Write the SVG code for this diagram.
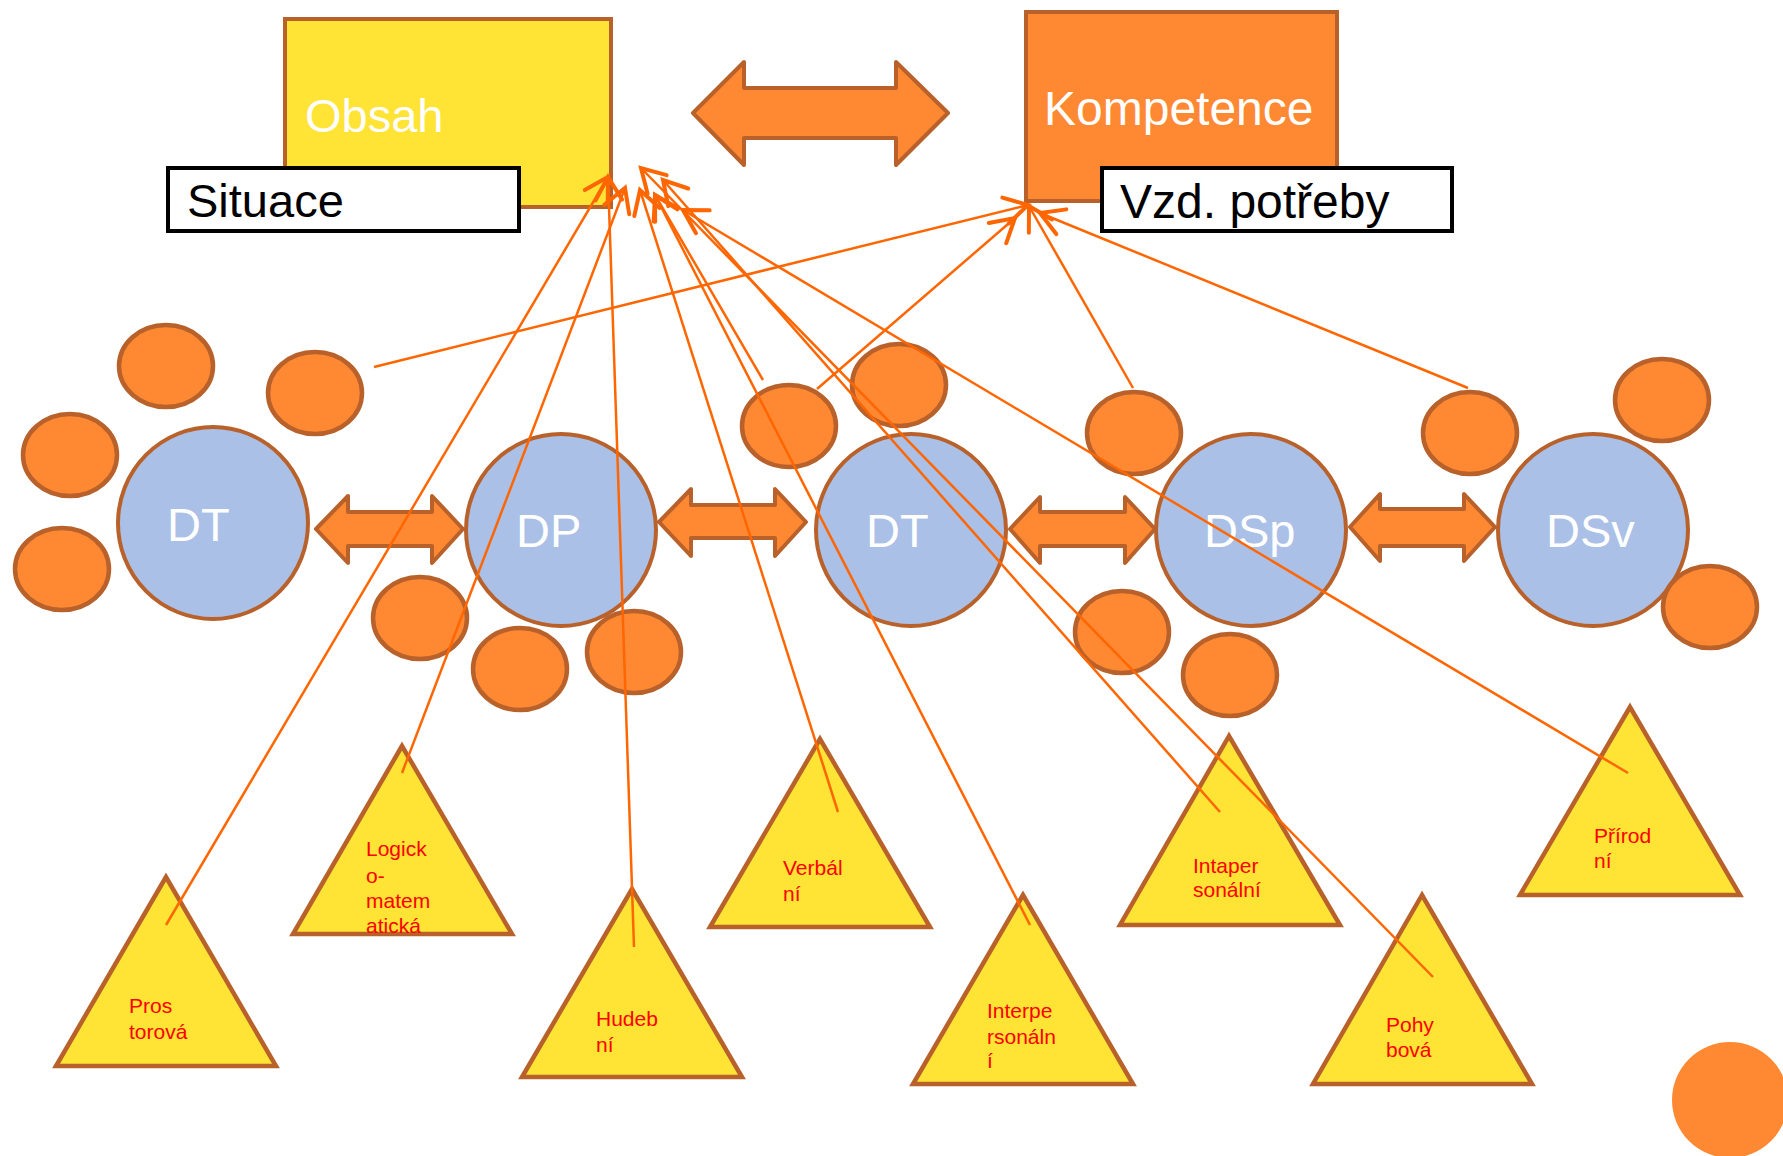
<svg xmlns="http://www.w3.org/2000/svg" width="1783" height="1156" viewBox="0 0 1783 1156">
<style>
text{font-family:"Liberation Sans",Arial,sans-serif}
.big{font-size:47px;fill:#FFFFFF}
.lbl{font-size:47px;fill:#000000}
.tri{fill:#FFE335;stroke:#B9612B;stroke-width:4.5;stroke-linejoin:miter}
.tt{font-size:21px;fill:#FF0000}
.blue{fill:#AAC0E6;stroke:#B9612B;stroke-width:4}
.sm{fill:#FF8833;stroke:#B9612B;stroke-width:4.5}
.darrow{fill:#FF8833;stroke:#B9612B;stroke-width:4;stroke-linejoin:round}
.con{stroke:#FF6600;stroke-width:2.5;fill:none;marker-end:url(#ah)}
</style>
<defs>
<marker id="ah" markerUnits="userSpaceOnUse" markerWidth="40" markerHeight="40" viewBox="-25 -15 30 30" refX="0" refY="0" orient="auto" overflow="visible">
<path d="M-17.3,-10 L0,0 L-17.3,10" fill="none" stroke="#FF6600" stroke-width="3" stroke-linecap="round"/>
</marker>
</defs>
<rect width="1783" height="1156" fill="#FFFFFF"/>

<g id="obsah">
<rect x="285" y="19" width="326" height="188" fill="#FFE335" stroke="#B9612B" stroke-width="4"/>
<text class="big" x="305" y="132">Obsah</text>
</g>
<g id="situace">
<rect x="168" y="168" width="351" height="63" fill="#FFFFFF" stroke="#000000" stroke-width="4"/>
<text class="lbl" x="187" y="217">Situace</text>
</g>
<g id="top-arrow">
<polygon class="darrow" points="693,113 744,62 744,88 896,88 896,62 948,113 896,165 896,138 744,138 744,165"/>
</g>
<g id="kompetence">
<rect x="1026" y="12" width="311" height="189" fill="#FF8833" stroke="#B9612B" stroke-width="4"/>
<text class="big" x="1044" y="125" style="font-size:48px">Kompetence</text>
</g>
<g id="vzd-potreby">
<rect x="1102" y="168" width="350" height="63" fill="#FFFFFF" stroke="#000000" stroke-width="4"/>
<text class="lbl" x="1120" y="218" style="font-size:48px">Vzd. potřeby</text>
</g>

<g id="dt1"><ellipse class="blue" cx="213" cy="523" rx="95" ry="96"/><text class="big" x="167" y="541">DT</text></g>
<g id="dp"><ellipse class="blue" cx="561" cy="530" rx="95" ry="96"/><text class="big" x="516" y="547">DP</text></g>
<g id="dt2"><ellipse class="blue" cx="911" cy="530" rx="95" ry="96"/><text class="big" x="866" y="547">DT</text></g>
<g id="dsp"><ellipse class="blue" cx="1251" cy="530" rx="95" ry="96"/><text class="big" x="1204" y="547">DSp</text></g>
<g id="dsv"><ellipse class="blue" cx="1593" cy="530" rx="95" ry="96"/><text class="big" x="1546" y="547">DSv</text></g>

<g id="arrow-dt-dp"><polygon class="darrow" points="316,529 348,496 348,512 432,512 432,496 463,529 432,563 432,546 348,546 348,563"/></g>
<g id="arrow-dp-dt"><polygon class="darrow" points="659,522 691,489 691,505 775,505 775,489 806,522 775,556 775,538 691,538 691,556"/></g>
<g id="arrow-dt-dsp"><polygon class="darrow" points="1010,529 1040,497 1040,512 1125,512 1125,497 1155,529 1125,563 1125,546 1040,546 1040,563"/></g>
<g id="arrow-dsp-dsv"><polygon class="darrow" points="1350,527 1380,494 1380,509 1464,509 1464,494 1495,527 1464,561 1464,546 1380,546 1380,561"/></g>

<g id="small-circles">
<ellipse id="c1" class="sm" cx="166" cy="366" rx="47" ry="41"/>
<ellipse id="c2" class="sm" cx="315" cy="393" rx="47" ry="41"/>
<ellipse id="c3" class="sm" cx="70" cy="455" rx="47" ry="41"/>
<ellipse id="c4" class="sm" cx="62" cy="569" rx="47" ry="41"/>
<ellipse id="c5" class="sm" cx="420" cy="618" rx="47" ry="41"/>
<ellipse id="c6" class="sm" cx="520" cy="669" rx="47" ry="41"/>
<ellipse id="c7" class="sm" cx="634" cy="652" rx="47" ry="41"/>
<ellipse id="c8" class="sm" cx="789" cy="426" rx="47" ry="41"/>
<ellipse id="c9" class="sm" cx="899" cy="385" rx="47" ry="41"/>
<ellipse id="c10" class="sm" cx="1134" cy="433" rx="47" ry="41"/>
<ellipse id="c11" class="sm" cx="1122" cy="632" rx="47" ry="41"/>
<ellipse id="c12" class="sm" cx="1230" cy="675" rx="47" ry="41"/>
<ellipse id="c13" class="sm" cx="1470" cy="433" rx="47" ry="41"/>
<ellipse id="c14" class="sm" cx="1662" cy="400" rx="47" ry="41"/>
<ellipse id="c15" class="sm" cx="1710" cy="607" rx="47" ry="41"/>
<ellipse id="c16" cx="1730" cy="1100" rx="58" ry="58" fill="#FF8833"/>
</g>

<g id="t-prostorova"><polygon class="tri" points="166,877 56,1066 276,1066"/><text class="tt" x="129" y="1013">Pros</text><text class="tt" x="129" y="1039">torová</text></g>
<g id="t-logicko"><polygon class="tri" points="402,746 293,934 512,934"/><text class="tt" x="366" y="856">Logick</text><text class="tt" x="366" y="883">o-</text><text class="tt" x="366" y="908">matem</text><text class="tt" x="366" y="933">atická</text></g>
<g id="t-hudebni"><polygon class="tri" points="632,889 522,1077 742,1077"/><text class="tt" x="596" y="1026">Hudeb</text><text class="tt" x="596" y="1052">ní</text></g>
<g id="t-verbalni"><polygon class="tri" points="820,739 710,927 930,927"/><text class="tt" x="783" y="875">Verbál</text><text class="tt" x="783" y="901">ní</text></g>
<g id="t-interpersonalni"><polygon class="tri" points="1023,895 913,1084 1133,1084"/><text class="tt" x="987" y="1018">Interpe</text><text class="tt" x="987" y="1044">rsonáln</text><text class="tt" x="987" y="1068">í</text></g>
<g id="t-intapersonalni"><polygon class="tri" points="1229,736 1120,925 1340,925"/><text class="tt" x="1193" y="873">Intaper</text><text class="tt" x="1193" y="897">sonální</text></g>
<g id="t-pohybova"><polygon class="tri" points="1422,895 1313,1084 1532,1084"/><text class="tt" x="1386" y="1032">Pohy</text><text class="tt" x="1386" y="1057">bová</text></g>
<g id="t-prirodni"><polygon class="tri" points="1630,707 1520,895 1740,895"/><text class="tt" x="1594" y="843">Přírod</text><text class="tt" x="1594" y="868">ní</text></g>

<g id="connectors">
<line class="con" x1="166" y1="925" x2="608" y2="177"/>
<line class="con" x1="402" y1="773" x2="625" y2="188"/>
<line class="con" x1="634" y1="947" x2="608" y2="177"/>
<line class="con" x1="838" y1="812" x2="640" y2="190"/>
<line class="con" x1="1030" y1="925" x2="655" y2="195"/>
<line class="con" x1="1220" y1="812" x2="663" y2="180"/>
<line class="con" x1="1433" y1="977" x2="641" y2="168"/>
<line class="con" x1="1628" y1="773" x2="683" y2="210"/>
<line class="con" x1="763" y1="380" x2="655" y2="195"/>
<line class="con" x1="374" y1="367" x2="1028" y2="205"/>
<line class="con" x1="817" y1="389" x2="1015" y2="218"/>
<line class="con" x1="1133" y1="388" x2="1029" y2="206"/>
<line class="con" x1="1468" y1="388" x2="1040" y2="213"/>
</g>
</svg>
